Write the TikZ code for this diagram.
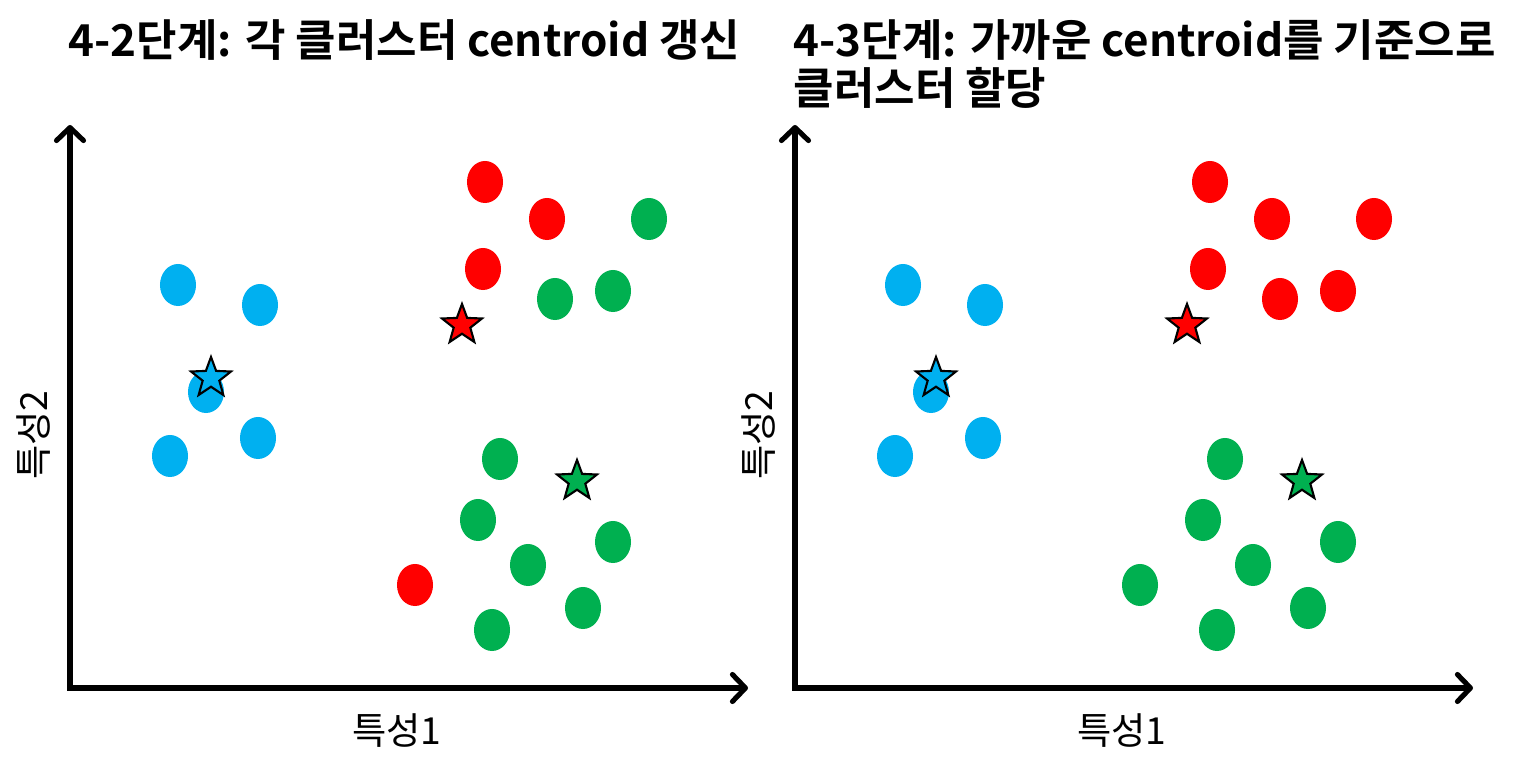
\documentclass[tikz,border=0pt]{standalone}
\usepackage{fontspec}
\setmainfont{Noto Sans CJK KR}[BoldFont={Noto Sans CJK KR Bold}]
\usetikzlibrary{shapes.geometric,arrows.meta}

\definecolor{cblue}{HTML}{00B0F0}
\definecolor{cred}{HTML}{FF0000}
\definecolor{cgreen}{HTML}{00B050}

\begin{document}
\begin{tikzpicture}[
  x=0.01cm, y=-0.01cm,
  pt/.style={ellipse, minimum width=3.6mm, minimum height=4.2mm, inner sep=0pt},
  bluept/.style={pt, fill=cblue},
  redpt/.style={pt, fill=cred},
  greenpt/.style={pt, fill=cgreen},
  centroid/.style={star, star points=5, star point ratio=2.4, draw=black,
                   line width=0.6pt, minimum size=4.2mm, inner sep=0pt},
  axis/.style={line width=1.45pt,
               {Straight Barb[length=1.3mm, width=2.7mm, line cap=round, line join=round]}-{Straight Barb[length=1.3mm, width=2.7mm, line cap=round, line join=round]}},
  title/.style={font=\bfseries\fontsize{12.5}{13.7}\selectfont, inner sep=0pt, align=left},
  axlabel/.style={font=\fontsize{10.6}{12}\selectfont, inner sep=0pt}
]
  \useasboundingbox (0,0) rectangle (1533,777);

  % Titles
  \node[title, anchor=base west] (t1) at (68,57) {4-2단계: 각 클러스터 centroid 갱신};
  \node[title, anchor=base west] (t2a) at (793,57) {4-3단계: 가까운 centroid를 기준으로};
  \node[title, anchor=base west] (t2b) at (793,105) {클러스터 할당};

  % Axes
  \coordinate (lo) at (70,688);
  \coordinate (ly) at (70,125);
  \coordinate (lx) at (748,688);
  \coordinate (ro) at (795,688);
  \coordinate (ry) at (795,125);
  \coordinate (rx) at (1473,688);
  \draw[axis] (ly) -- (lo) -- (lx);
  \draw[axis] (ry) -- (ro) -- (rx);

  \node[axlabel] (lxl) at (397,731) {특성1};
  \node[axlabel, rotate=90] (lyl) at (34,435) {특성2};
  \node[axlabel] (rxl) at (1122,731) {특성1};
  \node[axlabel, rotate=90] (ryl) at (759,435) {특성2};

  % Left panel: centroid update
  \foreach \x/\y [count=\i] in {178/285, 260/305, 206/392, 258/438, 170/456} {
    \node[bluept] (lb\i) at (\x,\y) {};
  }
  \foreach \x/\y [count=\i] in {485/182, 547/219, 483/269, 415/585} {
    \node[redpt] (lr\i) at (\x,\y) {};
  }
  \foreach \x/\y [count=\i] in {649/219, 555/299, 613/291, 500/459, 478/520,
                                528/565, 613/542, 583/608, 492/630} {
    \node[greenpt] (lg\i) at (\x,\y) {};
  }
  \node[centroid, fill=cblue] (lcb) at (211,378) {};
  \node[centroid, fill=cred] (lcr) at (462,325) {};
  \node[centroid, fill=cgreen] (lcg) at (577,481) {};

  % Right panel: reassignment
  \foreach \x/\y [count=\i] in {903/285, 985/305, 931/392, 983/438, 895/456} {
    \node[bluept] (rb\i) at (\x,\y) {};
  }
  \foreach \x/\y [count=\i] in {1210/182, 1272/219, 1208/269, 1374/219, 1280/299, 1338/291} {
    \node[redpt] (rr\i) at (\x,\y) {};
  }
  \foreach \x/\y [count=\i] in {1225/459, 1203/520, 1253/565, 1338/542, 1140/585,
                                1308/608, 1217/630} {
    \node[greenpt] (rg\i) at (\x,\y) {};
  }
  \node[centroid, fill=cblue] (rcb) at (936,378) {};
  \node[centroid, fill=cred] (rcr) at (1187,325) {};
  \node[centroid, fill=cgreen] (rcg) at (1302,481) {};
\end{tikzpicture}
\end{document}
